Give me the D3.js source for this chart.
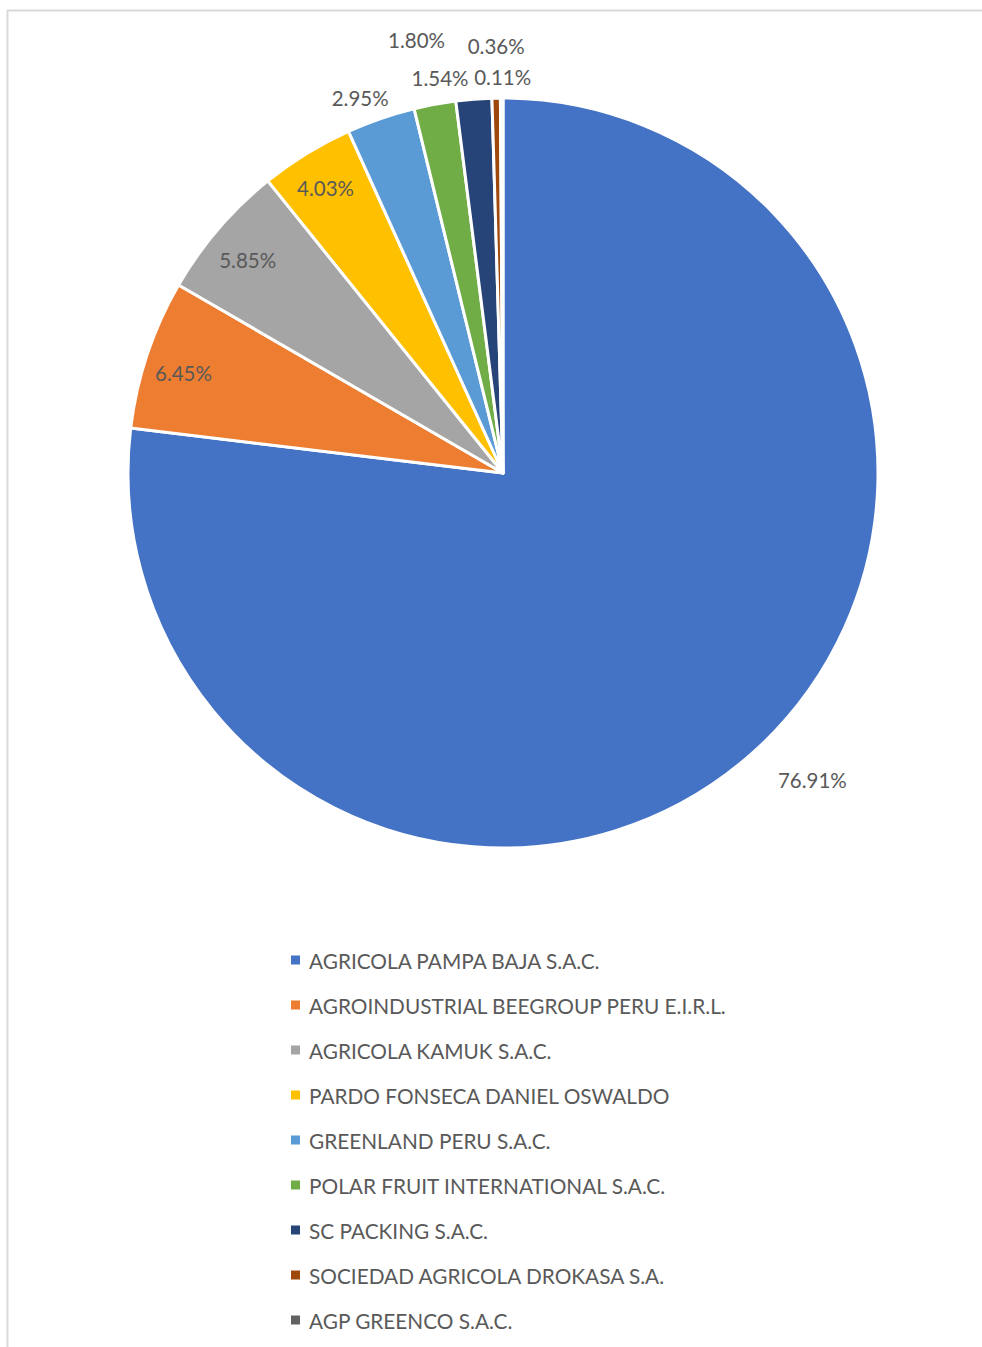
<!DOCTYPE html>
<html><head><meta charset="utf-8">
<script src="https://cdn.jsdelivr.net/npm/d3@7"></script>
<style>body{margin:0;background:#fff}svg{display:block}</style>
</head><body>
<script>
const categories = ["AGRICOLA PAMPA BAJA S.A.C.","AGROINDUSTRIAL BEEGROUP PERU E.I.R.L.","AGRICOLA KAMUK S.A.C.","PARDO FONSECA DANIEL OSWALDO","GREENLAND PERU S.A.C.","POLAR FRUIT INTERNATIONAL S.A.C.","SC PACKING S.A.C.","SOCIEDAD AGRICOLA DROKASA S.A.","AGP GREENCO S.A.C."];
const values = [76.91,6.45,5.85,4.03,2.95,1.80,1.54,0.36,0.11];
const colors = ["#4472C4","#ED7D31","#A5A5A5","#FFC000","#5B9BD5","#70AD47","#264478","#9E480E","#636363"];
// label placement: radius factor relative to pie radius and nudges
const labelRadius = [1.163,0.89,0.883,0.893,1.07,1.18,1.06,1.14,1.055];
const labelNudgeX = [20,-3,-4,-2,-12,-6,-32,1,1];
const labelNudgeY = [-19,6,3,0,4,2,1,0,0];

const W=982,H=1347, cx=503, cy=473, R=375;
const svg=d3.select("body").append("svg").attr("width",W).attr("height",H);
svg.append("path").attr("d",`M${982} 10.5 H7.5 V${H}`).attr("fill","none").attr("stroke","#d9d9d9").attr("stroke-width",2);

const pie=d3.pie().sort(null).value(d=>d)(values);
const arc=d3.arc().innerRadius(0).outerRadius(R);
const g=svg.append("g").attr("transform",`translate(${cx},${cy})`);
g.selectAll("path").data(pie).join("path").attr("d",arc)
 .attr("fill",(d,i)=>colors[i]).attr("stroke","#fff").attr("stroke-width",3).attr("stroke-linejoin","round");

const font="Lato, 'Open Sans', sans-serif";
g.selectAll("text.lbl").data(pie).join("text").attr("class","lbl")
 .attr("x",(d,i)=>{const a=(d.startAngle+d.endAngle)/2;return Math.sin(a)*R*labelRadius[i]+labelNudgeX[i];})
 .attr("y",(d,i)=>{const a=(d.startAngle+d.endAngle)/2;return -Math.cos(a)*R*labelRadius[i]+labelNudgeY[i];})
 .attr("text-anchor","middle").attr("dominant-baseline","central")
 .attr("font-family",font).attr("font-size",20.5).attr("fill","#595959")
 .text(d=>d.value.toFixed(2)+"%");

const leg=svg.append("g");
const rows=leg.selectAll("g").data(categories).join("g")
 .attr("transform",(d,i)=>`translate(291,${960+i*45})`);
rows.append("rect").attr("x",0).attr("y",-4.5).attr("width",9).attr("height",9).attr("fill",(d,i)=>colors[i]);
rows.append("text").attr("x",18).attr("y",0).attr("dominant-baseline","central")
 .attr("font-family",font).attr("font-size",20.8).attr("fill","#595959").text(d=>d);
</script>
</body></html>
